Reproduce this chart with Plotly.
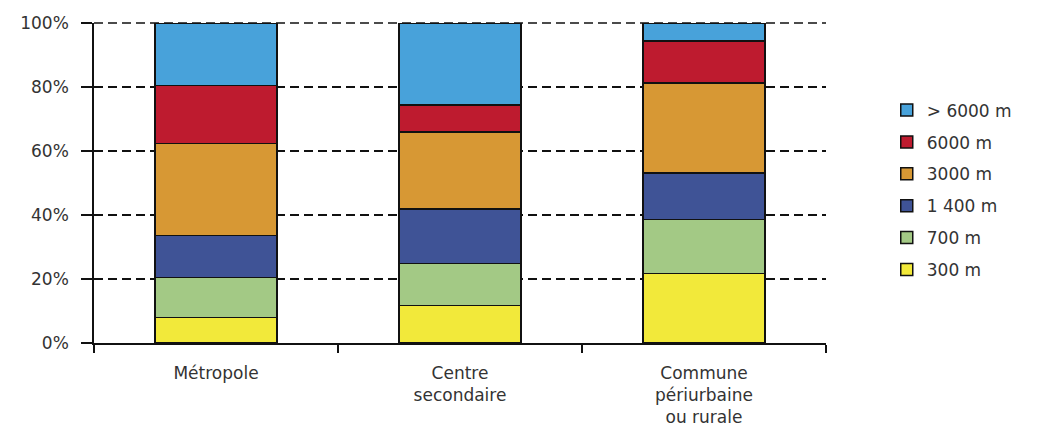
import plotly.graph_objects as go

categories = ["Métropole", "Centre<br>secondaire", "Commune<br>périurbaine<br>ou rurale"]
series_names = ["300 m", "700 m", "1 400 m", "3000 m", "6000 m", "> 6000 m"]
v_300 = [8.0, 11.7, 21.7]
v_700 = [12.4, 13.1, 16.9]
v_1400 = [13.2, 17.0, 14.5]
v_3000 = [28.8, 24.2, 28.1]
v_6000 = [18.1, 8.3, 13.2]
v_gt6000 = [19.5, 25.7, 5.6]
colors = ["#F2E93A", "#A3C985", "#3F5396", "#D79834", "#BE1B2F", "#48A2DA"]
y_ticks = [0, 20, 40, 60, 80, 100]
y_tick_labels = ["0%", "20%", "40%", "60%", "80%", "100%"]

values = [v_300, v_700, v_1400, v_3000, v_6000, v_gt6000]
FONT = "DejaVu Sans"
TXT = "#333333"
GRID_DASH = "9px,5px"

fig = go.Figure()
n = len(series_names)
for i, (name, vals, col) in enumerate(zip(series_names, values, colors)):
    fig.add_trace(go.Bar(
        x=categories, y=vals, name=name, legendgroup=name,
        legendrank=n - i,
        marker=dict(color=col, line=dict(color="#111111", width=1.5)),
    ))

# top gridline at the upper edge of the plot (plotly omits grid at the range edge)
fig.add_shape(type="line", xref="paper", x0=0, x1=1, yref="paper",
              y0=1, y1=1, layer="below",
              line=dict(color="#111111", width=1.5, dash=GRID_DASH))

fig.update_layout(
    width=1033, height=419,
    barmode="stack", bargap=0.5,
    plot_bgcolor="rgba(0,0,0,0)", paper_bgcolor="white",
    margin=dict(l=86, r=215, t=15, b=84, autoexpand=False),
    font=dict(family=FONT, size=17, color=TXT),
    legend=dict(
        x=1.083, y=0.783, xanchor="left", yanchor="top",
        traceorder="grouped", tracegroupgap=6.8,
        font=dict(family=FONT, size=17, color=TXT),
        bgcolor="rgba(0,0,0,0)",
    ),
    showlegend=True,
)
fig.update_yaxes(
    range=[0, 100], tickvals=y_ticks, ticktext=y_tick_labels,
    showgrid=True, gridcolor="#111111", gridwidth=1.5, griddash=GRID_DASH,
    zeroline=False, showline=True, linecolor="#111111", linewidth=1.5,
    ticks="outside", ticklen=11, tickcolor="#111111", tickwidth=1.5,
    ticklabelstandoff=9,
    tickfont=dict(family=FONT, size=17, color=TXT),
)
fig.update_xaxes(
    type="category", tickson="boundaries", ticks="outside", ticklen=8,
    tickcolor="#111111", tickwidth=1.5,
    showline=True, linecolor="#111111", linewidth=1.5, showgrid=False,
    ticklabelstandoff=14,
    tickfont=dict(family=FONT, size=17, color=TXT),
)

fig.write_html("out.html")
